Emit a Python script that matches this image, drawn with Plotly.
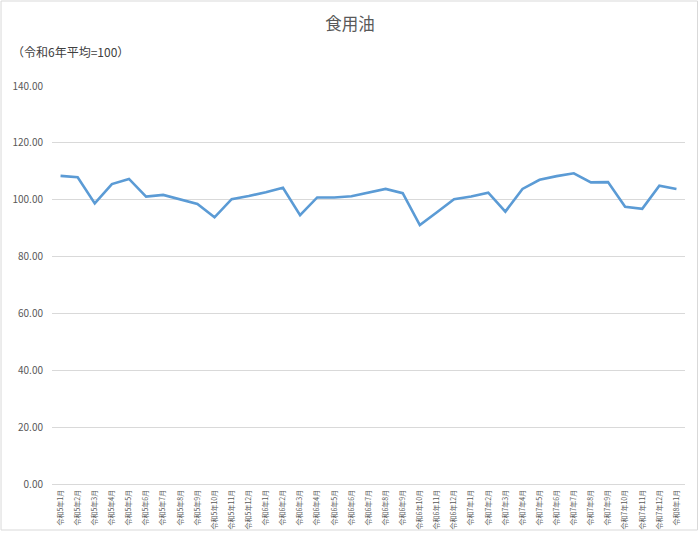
import plotly.graph_objects as go

months = (
    [f"令和5年{m}月" for m in range(1, 13)]
    + [f"令和6年{m}月" for m in range(1, 13)]
    + [f"令和7年{m}月" for m in range(1, 13)]
    + ["令和8年1月"]
)
values = [
    108.4, 107.9, 98.7, 105.5, 107.3, 101.1, 101.7, 100.1, 98.5, 93.8, 100.2, 101.3,
    102.6, 104.2, 94.6, 100.8, 100.8, 101.2, 102.6, 103.8, 102.3, 91.1, 95.6, 100.2,
    101.1, 102.5, 95.8, 103.8, 107.0, 108.3, 109.3, 106.1, 106.2, 97.5, 96.8, 104.9,
    103.8,
]
y_ticks = [0, 20, 40, 60, 80, 100, 120, 140]

FONT = "Noto Sans CJK JP"
fig = go.Figure()
fig.add_trace(go.Scatter(
    x=months, y=values, mode="lines",
    line=dict(color="#5B9BD5", width=2.6),
    hoverinfo="x+y",
))

L, R, T, B = 52, 14.5, 86, 50
W, H = 700, 534
pw, ph = W - L - R, H - T - B

fig.update_layout(
    width=W, height=H,
    margin=dict(l=L, r=R, t=T, b=B, pad=0, autoexpand=False),
    paper_bgcolor="white", plot_bgcolor="white",
    font=dict(family=FONT, color="#595959"),
    showlegend=False,
    title=dict(text="食用油", x=350 / W, xref="container", xanchor="center",
               y=1 - 24 / H, yref="container", yanchor="middle",
               font=dict(size=16.5, color="#595959", family=FONT)),
    xaxis=dict(
        type="category", tickangle=-90, tickfont=dict(size=7, color="#595959"),
        range=[-0.5, len(months) - 0.5],
        showgrid=False, showline=True, linecolor="#d9d9d9", linewidth=1,
        ticks="", fixedrange=True, automargin=False, ticklabelstandoff=2,
    ),
    yaxis=dict(
        range=[0, 140], tickvals=y_ticks, tickformat=".2f",
        tickfont=dict(size=10, color="#595959"),
        showgrid=True, gridcolor="#d9d9d9", gridwidth=1,
        zeroline=False, showline=False, ticks="", ticklen=0,
        ticklabelstandoff=8, automargin=False, fixedrange=True,
    ),
    annotations=[dict(
        text="（令和6年平均=100）", xref="paper", yref="paper",
        x=(10 - L) / pw, y=(H - B - 52) / ph, xanchor="left", yanchor="middle",
        showarrow=False, font=dict(size=12, color="#404040", family=FONT),
    )],
    shapes=[dict(
        type="rect", xref="paper", yref="paper",
        x0=(1 - L) / pw, x1=(698 - L) / pw,
        y0=(H - B - 530) / ph, y1=(H - B - 1) / ph,
        line=dict(color="#d9d9d9", width=1), fillcolor="rgba(0,0,0,0)", layer="below",
    )],
)

fig.write_html(
    "out.html",
    config={"displayModeBar": False},
    post_script="document.body.style.margin='0';document.body.style.overflow='hidden';",
)
